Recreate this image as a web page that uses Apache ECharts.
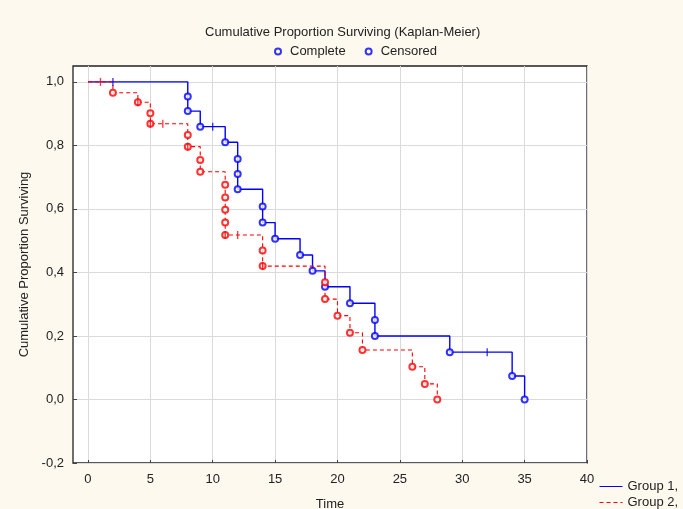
<!DOCTYPE html>
<html>
<head>
<meta charset="utf-8">
<script src="https://cdn.jsdelivr.net/npm/echarts@6/dist/echarts.min.js"></script>
<style>
  html, body { margin: 0; padding: 0; background: #fdf9ef; }
  #chart { width: 683px; height: 509px; }
</style>
</head>
<body>
<div id="chart"></div>
<script>
// group 1 (blue, solid)
const g1CompleteTimes = [8, 8, 9, 11, 12, 12, 12, 14, 14, 15, 17, 18, 19, 21, 23, 23, 29, 34, 35]
const g1CompleteSurv = [0.954, 0.908, 0.859, 0.810, 0.757, 0.710, 0.662, 0.608, 0.557, 0.506, 0.455, 0.405, 0.355, 0.303, 0.250, 0.200, 0.149, 0.074, 0]
const g1CensoredTimes = [2, 10, 32]
const g1CensoredSurv = [1, 0.859, 0.149]

// group 2 (red, dashed)
const g2CompleteTimes = [2, 4, 5, 5, 8, 8, 9, 9, 11, 11, 11, 11, 11, 14, 14, 19, 19, 20, 21, 22, 26, 27, 28]
const g2CompleteSurv = [0.966, 0.936, 0.901, 0.868, 0.833, 0.796, 0.754, 0.717, 0.676, 0.636, 0.597, 0.557, 0.518, 0.469, 0.420, 0.369, 0.316, 0.264, 0.210, 0.156, 0.103, 0.049, 0]
const g2CensoredTimes = [1, 4, 5, 6, 8, 11, 12, 14]
const g2CensoredSurv = [1, 0.936, 0.868, 0.868, 0.796, 0.518, 0.518, 0.420]

const xTicks = [0, 5, 10, 15, 20, 25, 30, 35, 40]
const yTicks = [-0.2, 0, 0.2, 0.4, 0.6, 0.8, 1.0]

const BLUE = '#0000ff'
const RED = '#ff0000'
const FONT = 'Liberation Sans'

// step curve: start at (0,1), then lowest value at each event time
function stepPoints(times, surv) {
  const pts = [[0, 1]]
  times.forEach((t, i) => {
    const last = pts[pts.length - 1]
    if (last[0] === t) last[1] = surv[i]
    else pts.push([t, surv[i]])
  })
  return pts
}

const zip = (a, b) => a.map((v, i) => [v, b[i]])

const chart = echarts.init(document.getElementById('chart'))

const option = {
  backgroundColor: '#fdf9ef',
  animation: false,
  textStyle: { fontFamily: FONT },
  title: {
    text: 'Cumulative Proportion Surviving (Kaplan-Meier)',
    left: 200,
    top: 21,
    textStyle: { fontSize: 13, fontWeight: 'normal', color: '#222', fontFamily: FONT }
  },
  legend: [
    {
      left: 269,
      top: 40,
      itemWidth: 6,
      itemHeight: 6,
      itemGap: 19,
      selectedMode: false,
      textStyle: { fontSize: 13, color: '#222', fontFamily: FONT, padding: [0, 0, 0, 4] },
      data: [
        { name: 'Complete', icon: 'emptyCircle', itemStyle: { color: BLUE, borderColor: BLUE, borderWidth: 1.2 } },
        { name: 'Censored', icon: 'emptyCircle', itemStyle: { color: BLUE, borderColor: BLUE, borderWidth: 1.2 } }
      ]
    },
    {
      left: 594,
      top: 475,
      height: 40,
      orient: 'vertical',
      itemWidth: 23,
      itemHeight: 10,
      itemGap: 3,
      selectedMode: false,
      itemStyle: { opacity: 0 },
      lineStyle: { width: 1 },
      textStyle: { fontSize: 13, color: '#222', fontFamily: FONT },
      data: ['Group 1,', 'Group 2,']
    }
  ],
  grid: {
    left: 73,
    top: 66,
    right: 96,
    bottom: 46,
    outerBoundsMode: 'none',
    show: true,
    backgroundColor: '#fff',
    borderColor: '#222',
    borderWidth: 1.3
  },
  xAxis: {
    type: 'value',
    min: -1.2,
    max: 40,
    name: 'Time',
    nameLocation: 'middle',
    nameGap: 35,
    nameTextStyle: { fontSize: 13, color: '#222', fontFamily: FONT },
    axisLine: { show: false, onZero: false },
    axisTick: { show: true, inside: true, length: 3, customValues: xTicks, lineStyle: { color: '#444' } },
    axisLabel: { customValues: xTicks, fontSize: 13, color: '#222', margin: 10 },
    splitLine: { show: true, lineStyle: { color: '#dadada', width: 1 } }
  },
  yAxis: {
    type: 'value',
    min: -0.2,
    max: 1.05,
    name: 'Cumulative Proportion Surviving',
    nameLocation: 'middle',
    nameGap: 42,
    nameTextStyle: { fontSize: 13, color: '#222', fontFamily: FONT },
    axisLine: { show: false, onZero: false },
    axisTick: { show: true, inside: true, length: 4, customValues: yTicks, lineStyle: { color: '#444' } },
    axisLabel: {
      customValues: yTicks,
      fontSize: 13,
      color: '#222',
      margin: 9,
      formatter: v => v.toFixed(1).replace('.', ',')
    },
    splitLine: { show: true, lineStyle: { color: '#dadada', width: 1 } }
  },
  series: [
    {
      name: 'Group 1,',
      type: 'line',
      step: 'end',
      symbol: 'none',
      color: BLUE,
      lineStyle: { color: BLUE, width: 1.4 },
      data: stepPoints(g1CompleteTimes, g1CompleteSurv),
      z: 2
    },
    {
      name: 'Group 2,',
      type: 'line',
      step: 'end',
      symbol: 'none',
      color: RED,
      lineStyle: { color: RED, width: 1.1, type: [4, 3] },
      data: stepPoints(g2CompleteTimes, g2CompleteSurv),
      z: 3
    },
    {
      name: 'Complete',
      type: 'scatter',
      symbol: 'emptyCircle',
      symbolSize: 6,
      itemStyle: { color: BLUE, borderColor: BLUE, borderWidth: 1.4 },
      data: zip(g1CompleteTimes, g1CompleteSurv),
      z: 4
    },
    {
      name: 'Complete',
      type: 'scatter',
      symbol: 'emptyCircle',
      symbolSize: 6,
      itemStyle: { color: RED, borderColor: RED, borderWidth: 1.4 },
      data: zip(g2CompleteTimes, g2CompleteSurv),
      z: 5
    },
    {
      name: 'Censored',
      type: 'scatter',
      symbol: 'rect',
      symbolSize: [1.3, 8],
      itemStyle: { color: BLUE },
      data: zip(g1CensoredTimes, g1CensoredSurv),
      z: 6
    },
    {
      name: 'Censored',
      type: 'scatter',
      symbol: 'rect',
      symbolSize: [1.3, 8],
      itemStyle: { color: RED },
      data: zip(g2CensoredTimes, g2CensoredSurv),
      z: 7
    }
  ]
}

chart.setOption(option)
</script>
</body>
</html>
